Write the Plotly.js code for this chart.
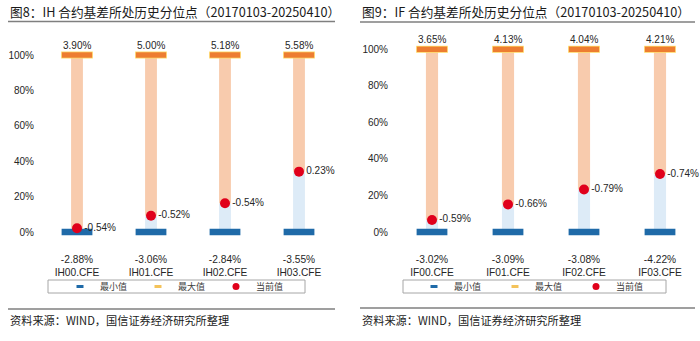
<!DOCTYPE html>
<html><head><meta charset="utf-8">
<script src="https://cdn.plot.ly/plotly-3.0.1.min.js"></script>
<style>html,body{margin:0;padding:0;background:#fff}#chart{width:700px;height:341px}</style>
</head><body><div id="chart"></div>
<script>
// ---- data ----
const ihCategories = ['IH00.CFE','IH01.CFE','IH02.CFE','IH03.CFE'];
const ihPercentile = [2.1, 9.2, 16.2, 34.1];
const ihCurrent = [-0.54, -0.52, -0.54, 0.23];
const ihMax = [3.90, 5.00, 5.18, 5.58];
const ihMin = [-2.88, -3.06, -2.84, -3.55];

const ifCategories = ['IF00.CFE','IF01.CFE','IF02.CFE','IF03.CFE'];
const ifPercentile = [6.6, 15.1, 23.3, 31.7];
const ifCurrent = [-0.59, -0.66, -0.79, -0.74];
const ifMax = [3.65, 4.13, 4.04, 4.21];
const ifMin = [-3.02, -3.09, -3.08, -4.22];

const minPercentile = [0, 0, 0, 0];
const maxPercentile = [100, 100, 100, 100];
const yTicks = [0, 20, 40, 60, 80, 100];
const legendNames = ['最小值', '最大值', '当前值'];
const titles = ['图8：IH 合约基差所处历史分位点（20170103-20250410）', '图9：IF 合约基差所处历史分位点（20170103-20250410）'];
const sourceText = '资料来源：WIND，国信证券经济研究所整理';

// ---- styling ----
const W = 700, H = 341;
const C = {peach:'#F8CBAD', lblue:'#DDEBF7', orange:'#ED7D31', gold:'#FFD966', legGold:'#F4C35A', blue:'#1F6AA8', red:'#E0001B', text:'#262626'};
const NUM_FONT = 'Liberation Sans, Arial, sans-serif';
const CJK_FONT = 'Noto Sans CJK SC, sans-serif';
const px = x => x / W, py = y => 1 - y / H;
const fmt = v => v.toFixed(2) + '%';

function yRange(p0, p100, top, bottom) {
  const k = (p0 - p100) / 100;
  return [-(bottom - p0) / k, 100 + (p100 - top) / k];
}

function panel(cats, pct, cur, mx, mn, xa, ya, leg) {
  const common = {xaxis: xa, yaxis: ya, hoverinfo: 'skip', showlegend: false, legend: leg};
  return [
    Object.assign({type:'bar', x:cats, y:pct, base:minPercentile, width:0.16, marker:{color:C.lblue}}, common),
    Object.assign({type:'bar', x:cats, y:pct.map(p => 100 - p), base:pct, width:0.16, marker:{color:C.peach}}, common),
    Object.assign({type:'scatter', mode:'markers', x:cats, y:minPercentile, cliponaxis:false,
      marker:{symbol:'line-ew', size:22, line:{width:6.5, color:C.blue}}}, common),
    Object.assign({type:'scatter', mode:'markers', x:cats, y:maxPercentile, cliponaxis:false,
      marker:{symbol:'line-ew', size:22.6, line:{width:7, color:C.gold}}}, common),
    Object.assign({type:'scatter', mode:'markers', x:cats, y:maxPercentile, cliponaxis:false,
      marker:{symbol:'line-ew', size:21.6, line:{width:5.4, color:C.orange}}}, common),
    Object.assign({type:'scatter', mode:'markers+text', x:cats, y:pct, cliponaxis:false,
      text:cur.map(fmt), textposition:'middle right', textfont:{family:NUM_FONT, size:10, color:C.text},
      marker:{size:10, color:C.red}}, common),
    // legend entries
    {type:'scatter', mode:'markers', x:[null], y:[null], xaxis:xa, yaxis:ya, name:legendNames[0], legend:leg,
      marker:{symbol:'line-ew', size:5, line:{width:3, color:C.blue}}},
    {type:'scatter', mode:'markers', x:[null], y:[null], xaxis:xa, yaxis:ya, name:legendNames[1], legend:leg,
      marker:{symbol:'line-ew', size:5, line:{width:3, color:C.legGold}}},
    {type:'scatter', mode:'markers', x:[null], y:[null], xaxis:xa, yaxis:ya, name:legendNames[2], legend:leg,
      marker:{symbol:'circle', size:7, color:C.red}}
  ];
}

const data = [].concat(
  panel(ihCategories, ihPercentile, ihCurrent, ihMax, ihMin, 'x', 'y', 'legend'),
  panel(ifCategories, ifPercentile, ifCurrent, ifMax, ifMin, 'x2', 'y2', 'legend2')
);

function xAxis(dom, cats, mn, anchor) {
  return {domain:[px(dom[0]), px(dom[1])], type:'category', range:[-0.5, 3.5], anchor:anchor,
    tickvals:cats, ticktext:cats.map((c, i) => fmt(mn[i]) + '<br>' + c),
    showgrid:false, zeroline:false, showline:false, ticks:'', ticklabelstandoff:8,
    tickfont:{family:NUM_FONT, size:10.2, color:C.text}, fixedrange:true, automargin:false};
}
function yAxis(rng, anchor) {
  return {domain:[py(244), py(36)], range:rng, anchor:anchor,
    tickvals:yTicks, ticktext:yTicks.map(v => v + '%'), ticks:'', ticklabelstandoff:5,
    showgrid:false, zeroline:false, showline:false,
    tickfont:{family:NUM_FONT, size:10, color:C.text}, fixedrange:true, automargin:false};
}

const maxAnn = (cats, mx, xr, yr) => cats.map((c, i) => ({
  x:c, y:maxPercentile[i], xref:xr, yref:yr, text:fmt(mx[i]), showarrow:false, yshift:10, yanchor:'middle',
  font:{family:NUM_FONT, size:10, color:C.text}}));

const textAnn = (x, y, txt, size) => ({x:px(x), y:py(y), xref:'paper', yref:'paper', xanchor:'left', yanchor:'middle',
  text:txt, showarrow:false, font:{family:CJK_FONT, size:size, color:'#1a1a1a'}});

const hline = (x0, x1, y) => ({type:'line', xref:'paper', yref:'paper', x0:px(x0), x1:px(x1), y0:py(y), y1:py(y),
  line:{color:'#7F7F7F', width:1.6}});
const box = (x0, x1, y0, y1) => ({type:'rect', xref:'paper', yref:'paper', x0:px(x0), x1:px(x1), y0:py(y1), y1:py(y0),
  line:{color:'#A6A6A6', width:1}, fillcolor:'rgba(0,0,0,0)'});

const legendStyle = (x, ew) => ({orientation:'h', x:px(x), xanchor:'left', y:py(286.5), yanchor:'middle',
  bgcolor:'rgba(0,0,0,0)', borderwidth:0, entrywidth:ew, entrywidthmode:'pixels', itemwidth:30,
  font:{family:CJK_FONT, size:9, color:'#404040'}});

const layout = {
  width:W, height:H, margin:{l:0, r:0, t:0, b:0, autoexpand:false}, paper_bgcolor:'#fff', plot_bgcolor:'rgba(0,0,0,0)',
  barmode:'overlay', showlegend:true,
  xaxis: xAxis([40, 336], ihCategories, ihMin, 'y'),
  yaxis: yAxis(yRange(232, 55, 36, 244), 'x'),
  xaxis2: xAxis([394, 698], ifCategories, ifMin, 'y2'),
  yaxis2: yAxis(yRange(232, 49.3, 36, 244), 'x2'),
  legend: legendStyle(60, 33),
  legend2: legendStyle(414, 36),
  annotations: [].concat(
    maxAnn(ihCategories, ihMax, 'x', 'y'),
    maxAnn(ifCategories, ifMax, 'x2', 'y2'),
    [textAnn(8, 12, titles[0], 12.7), textAnn(360, 12, titles[1], 12.7),
     textAnn(8, 320, sourceText, 11.2), textAnn(360, 320, sourceText, 11.2)]
  ),
  shapes: [hline(8, 335, 21.5), hline(360, 695, 22), hline(8, 335, 309), hline(360, 695, 308),
    box(48, 305, 280, 293), box(403, 666, 280, 293)]
};

Plotly.newPlot('chart', data, layout, {displayModeBar:false, staticPlot:true});
</script>
</body></html>
